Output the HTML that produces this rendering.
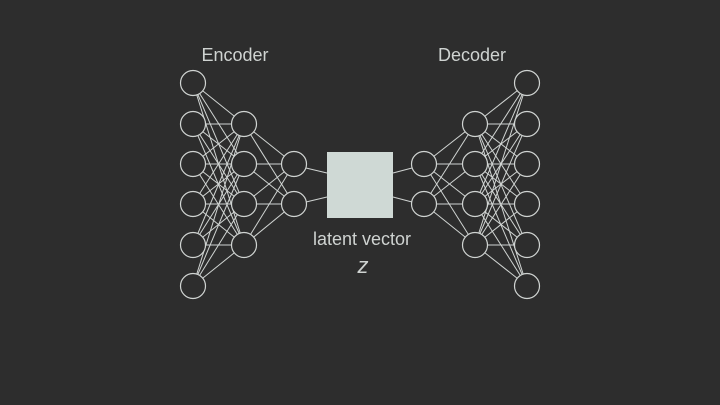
<!DOCTYPE html>
<html><head><meta charset="utf-8"><style>
html,body{margin:0;padding:0;background:#2d2d2d;width:720px;height:405px;overflow:hidden}
svg{display:block}
text{font-family:"Liberation Sans",sans-serif;fill:#cfd3d1}
</style></head><body>
<svg id="s" width="720" height="405" viewBox="0 0 720 405">
<rect width="720" height="405" fill="#2d2d2d"/>
<g id="lines" stroke="#d0d4d2" stroke-width="1"></g>
<line x1="306" y1="168" x2="327" y2="173" stroke="#d0d4d2"/>
<line x1="306" y1="202" x2="327" y2="197" stroke="#d0d4d2"/>
<line x1="412" y1="168" x2="393" y2="173" stroke="#d0d4d2"/>
<line x1="412" y1="202" x2="393" y2="197" stroke="#d0d4d2"/>
<g id="nodes" fill="#2d2d2d" stroke="#d0d4d2" stroke-width="1.2"></g>
<rect x="327" y="152" width="66" height="66" fill="#cfd9d5"/>
<text x="235" y="61" font-size="18" text-anchor="middle">Encoder</text>
<text x="472" y="61" font-size="18" text-anchor="middle">Decoder</text>
<text x="362" y="245" font-size="18" text-anchor="middle">latent vector</text>
<text x="363" y="273" font-size="22" font-style="italic" text-anchor="middle">z</text>
</svg>
<script>
var L=[[193,[83,124,164,204,245,286]],[244,[124,164,204,245]],[294,[164,204]]];
var R=[[527,[83,124,164,204,245,286]],[475,[124,164,204,245]],[424,[164,204]]];
var lg=document.getElementById('lines'),ng=document.getElementById('nodes'),ns='http://www.w3.org/2000/svg';
function draw(A){
 for(var i=0;i<2;i++){var a=A[i],b=A[i+1];
  a[1].forEach(function(y1){b[1].forEach(function(y2){
   var l=document.createElementNS(ns,'line');l.setAttribute('x1',a[0]);l.setAttribute('y1',y1);l.setAttribute('x2',b[0]);l.setAttribute('y2',y2);lg.appendChild(l);});});}
 A.forEach(function(a){a[1].forEach(function(y){var c=document.createElementNS(ns,'circle');c.setAttribute('cx',a[0]);c.setAttribute('cy',y);c.setAttribute('r',12.5);ng.appendChild(c);});});
}
draw(L);draw(R);
</script>
</body></html>
